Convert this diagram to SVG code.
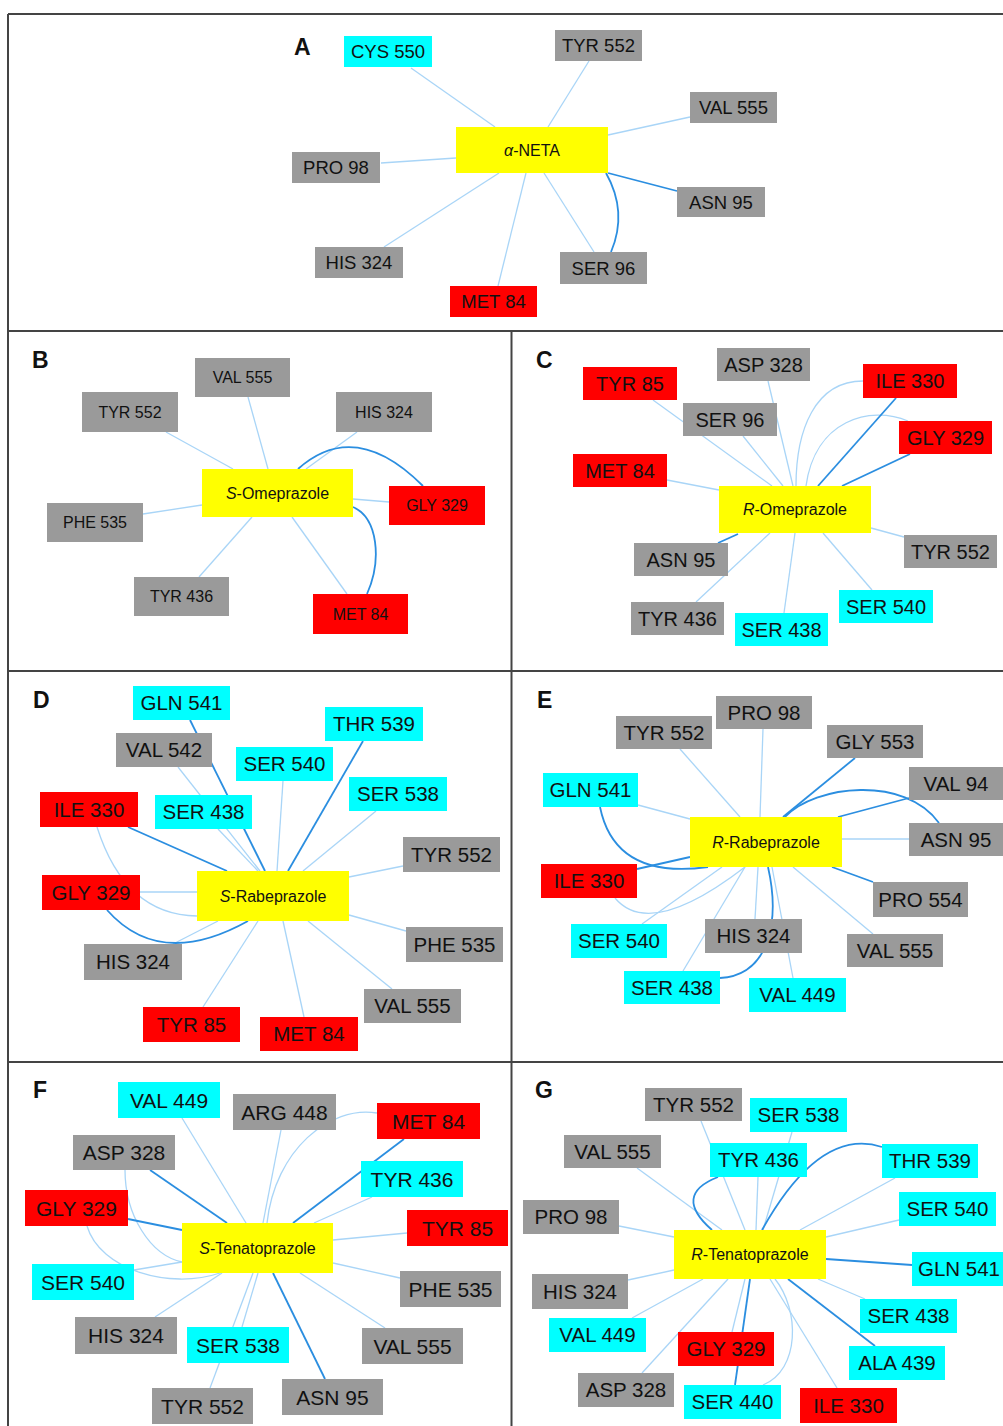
<svg xmlns="http://www.w3.org/2000/svg" width="1003" height="1426" viewBox="0 0 1003 1426">
<style>
.g{fill:#9a9a9a}
.c{fill:#00ffff}
.r{fill:#ff0000}
.y{fill:#ffff00}
.l{fill:none;stroke:#a9d5f7;stroke-width:1.3}
.d{fill:none;stroke:#2b8ee0;stroke-width:1.8}
text{font-family:"Liberation Sans",Arial,sans-serif;fill:#111;text-anchor:middle}
.fa{font-size:18.5px}
.fb{font-size:16px}
.fc{font-size:20px}
.fd{font-size:20.5px}
.ff{font-size:21px}
.fm{font-size:16px}
.lab{font-size:23px;font-weight:bold;text-anchor:start}
.i{font-style:italic}
.frame{stroke:#444;stroke-width:2;fill:none}
</style>
<rect width="1003" height="1426" fill="#ffffff"/>
<g id="frame">
<path class="frame" d="M8,14 H1003 M8,14 V1426 M8,331 H1003 M8,671 H1003 M8,1062 H1003 M511.5,331 V1426"/>
</g>
<g id="panel-labels">
<text class="lab" x="294" y="55">A</text>
<text class="lab" x="32" y="368">B</text>
<text class="lab" x="536" y="368">C</text>
<text class="lab" x="33" y="708">D</text>
<text class="lab" x="537" y="708">E</text>
<text class="lab" x="33" y="1098">F</text>
<text class="lab" x="535" y="1098">G</text>
</g>
<g id="connectors">
<!-- A -->
<path class="l" d="M411,68 L495,127"/>
<path class="l" d="M589,61 L548,127"/>
<path class="l" d="M690,117 L608,135"/>
<path class="l" d="M381,163 L456,158"/>
<path class="l" d="M544,173 L594,252"/>
<path class="l" d="M499,173 L384,247"/>
<path class="l" d="M526,173 L498,286"/>
<path class="d" d="M608,173 L677,191"/>
<path class="d" d="M606,173 Q628,212 611,252"/>
<!-- B -->
<path class="l" d="M166,432 L233,469"/>
<path class="l" d="M248,397 L268,469"/>
<path class="l" d="M357,432 L306,469"/>
<path class="l" d="M353,499 L389,502"/>
<path class="l" d="M292,517 L347,594"/>
<path class="l" d="M143,514 L202,505"/>
<path class="l" d="M199,577 L252,517"/>
<path class="d" d="M298,469 Q355,418 423,486"/>
<path class="d" d="M353,507 C378,518 382,560 367,594"/>
<!-- C -->
<path class="l" d="M653,400 L772,486"/>
<path class="l" d="M743,436 L783,486"/>
<path class="l" d="M768,381 L793,486"/>
<path class="l" d="M863,381 C815,381 796,430 796,486"/>
<path class="l" d="M908,421 C870,405 815,420 806,486"/>
<path class="l" d="M667,480 L719,490"/>
<path class="l" d="M904,537 L871,528"/>
<path class="l" d="M696,602 L770,533"/>
<path class="l" d="M784,613 L795,533"/>
<path class="l" d="M872,590 L823,533"/>
<path class="d" d="M896,398 L818,486"/>
<path class="d" d="M910,454 L842,486"/>
<path class="d" d="M718,543 L738,534"/>
<!-- D -->
<path class="l" d="M178,767 L260,871"/>
<path class="l" d="M218,829 L258,871"/>
<path class="l" d="M283,781 L277,871"/>
<path class="l" d="M376,811 L303,871"/>
<path class="l" d="M403,866 L349,877"/>
<path class="l" d="M97,827 Q125,915 197,916"/>
<path class="l" d="M140,892 L197,892"/>
<path class="l" d="M173,944 L218,921"/>
<path class="l" d="M203,1007 L258,921"/>
<path class="l" d="M304,1017 L283,921"/>
<path class="l" d="M392,989 L308,921"/>
<path class="l" d="M406,931 L349,915"/>
<path class="d" d="M190,720 L265,871"/>
<path class="d" d="M363,741 L288,871"/>
<path class="d" d="M128,827 L227,871"/>
<path class="d" d="M107,910 Q160,970 248,921"/>
<!-- E -->
<path class="l" d="M680,749 L740,817"/>
<path class="l" d="M763,729 L760,817"/>
<path class="l" d="M909,839 L842,839"/>
<path class="l" d="M638,805 L690,819"/>
<path class="l" d="M615,898 Q650,940 745,867"/>
<path class="l" d="M642,924 L722,867"/>
<path class="l" d="M683,971 L745,867"/>
<path class="l" d="M755,919 L758,867"/>
<path class="l" d="M793,978 L772,867"/>
<path class="l" d="M793,867 L873,934"/>
<path class="d" d="M855,758 L783,817"/>
<path class="d" d="M785,817 C815,785 905,775 939,823"/>
<path class="d" d="M909,798 L838,817"/>
<path class="d" d="M600,807 Q615,880 708,867"/>
<path class="d" d="M637,869 L690,857"/>
<path class="d" d="M768,867 C780,920 770,975 720,978"/>
<path class="d" d="M832,867 L873,882"/>
<!-- F -->
<path class="l" d="M182,1118 L246,1223"/>
<path class="l" d="M281,1130 L263,1223"/>
<path class="l" d="M377,1113 C330,1105 275,1150 267,1223"/>
<path class="l" d="M372,1197 L314,1223"/>
<path class="l" d="M407,1233 L333,1240"/>
<path class="l" d="M400,1278 L333,1263"/>
<path class="l" d="M385,1328 L300,1273"/>
<path class="l" d="M210,1388 L253,1273"/>
<path class="l" d="M242,1327 L258,1273"/>
<path class="l" d="M155,1317 L222,1273"/>
<path class="l" d="M134,1270 L182,1262"/>
<path class="l" d="M87,1226 C100,1270 170,1290 220,1273"/>
<path class="l" d="M125,1170 C125,1215 150,1255 182,1262"/>
<path class="d" d="M404,1139 L293,1223"/>
<path class="d" d="M325,1379 L273,1273"/>
<path class="d" d="M150,1170 L227,1223"/>
<path class="d" d="M128,1219 L182,1230"/>
<!-- G -->
<path class="l" d="M701,1121 L745,1230"/>
<path class="l" d="M792,1132 L763,1230"/>
<path class="l" d="M758,1177 L756,1230"/>
<path class="l" d="M895,1178 L800,1230"/>
<path class="l" d="M899,1220 L826,1237"/>
<path class="l" d="M637,1168 L722,1230"/>
<path class="l" d="M619,1226 L674,1237"/>
<path class="l" d="M628,1280 L674,1270"/>
<path class="l" d="M632,1318 L703,1279"/>
<path class="l" d="M642,1373 L728,1279"/>
<path class="l" d="M732,1332 L745,1279"/>
<path class="l" d="M763,1385 C800,1370 800,1310 775,1279"/>
<path class="l" d="M837,1388 L770,1279"/>
<path class="l" d="M865,1299 L818,1279"/>
<path class="d" d="M718,1177 Q672,1195 712,1230"/>
<path class="d" d="M882,1147 C830,1130 790,1180 762,1230"/>
<path class="d" d="M912,1265 L826,1259"/>
<path class="d" d="M735,1385 L750,1279"/>
<path class="d" d="M875,1346 L788,1279"/>
</g>
<!-- Panel A nodes -->
<g id="A-aneta"><rect class="y" x="456" y="127" width="152" height="46"/><text class="fm" x="532" y="150" dy=".36em"><tspan class="i">α</tspan>-NETA</text></g>
<g id="A-cys550"><rect class="c" x="344" y="36" width="88" height="31"/><text class="fa" x="388" y="51.5" dy=".36em">CYS 550</text></g>
<g id="A-tyr552"><rect class="g" x="555" y="30" width="87" height="31"/><text class="fa" x="598.5" y="45.5" dy=".36em">TYR 552</text></g>
<g id="A-val555"><rect class="g" x="690" y="92" width="87" height="31"/><text class="fa" x="733.5" y="107.5" dy=".36em">VAL 555</text></g>
<g id="A-pro98"><rect class="g" x="292" y="152" width="88" height="31"/><text class="fa" x="336" y="167.5" dy=".36em">PRO 98</text></g>
<g id="A-asn95"><rect class="g" x="677" y="187" width="88" height="30"/><text class="fa" x="721" y="202" dy=".36em">ASN 95</text></g>
<g id="A-his324"><rect class="g" x="315" y="247" width="88" height="31"/><text class="fa" x="359" y="262.5" dy=".36em">HIS 324</text></g>
<g id="A-ser96"><rect class="g" x="560" y="252" width="87" height="32"/><text class="fa" x="603.5" y="268" dy=".36em">SER 96</text></g>
<g id="A-met84"><rect class="r" x="450" y="286" width="87" height="31"/><text class="fa" x="493.5" y="301.5" dy=".36em">MET 84</text></g>
<!-- Panel B nodes -->
<g id="B-someprazole"><rect class="y" x="202" y="469" width="151" height="48"/><text class="fm" x="277.5" y="493" dy=".36em"><tspan class="i">S</tspan>-Omeprazole</text></g>
<g id="B-val555"><rect class="g" x="195" y="358" width="95" height="39"/><text class="fb" x="242.5" y="377.5" dy=".36em">VAL 555</text></g>
<g id="B-tyr552"><rect class="g" x="82" y="392" width="96" height="40"/><text class="fb" x="130" y="412" dy=".36em">TYR 552</text></g>
<g id="B-his324"><rect class="g" x="336" y="392" width="96" height="40"/><text class="fb" x="384" y="412" dy=".36em">HIS 324</text></g>
<g id="B-phe535"><rect class="g" x="47" y="503" width="96" height="39"/><text class="fb" x="95" y="522.5" dy=".36em">PHE 535</text></g>
<g id="B-gly329"><rect class="r" x="389" y="486" width="96" height="39"/><text class="fb" x="437" y="505.5" dy=".36em">GLY 329</text></g>
<g id="B-tyr436"><rect class="g" x="134" y="577" width="95" height="39"/><text class="fb" x="181.5" y="596.5" dy=".36em">TYR 436</text></g>
<g id="B-met84"><rect class="r" x="313" y="594" width="95" height="40"/><text class="fb" x="360.5" y="614" dy=".36em">MET 84</text></g>
<!-- Panel C nodes -->
<g id="C-romeprazole"><rect class="y" x="719" y="486" width="152" height="47"/><text class="fm" x="795" y="509.5" dy=".36em"><tspan class="i">R</tspan>-Omeprazole</text></g>
<g id="C-asp328"><rect class="g" x="717" y="348" width="93" height="33"/><text class="fc" x="763.5" y="364.5" dy=".36em">ASP 328</text></g>
<g id="C-tyr85"><rect class="r" x="583" y="367" width="94" height="33"/><text class="fc" x="630" y="383.5" dy=".36em">TYR 85</text></g>
<g id="C-ile330"><rect class="r" x="863" y="364" width="94" height="34"/><text class="fc" x="910" y="381" dy=".36em">ILE 330</text></g>
<g id="C-ser96"><rect class="g" x="683" y="403" width="94" height="33"/><text class="fc" x="730" y="419.5" dy=".36em">SER 96</text></g>
<g id="C-gly329"><rect class="r" x="899" y="421" width="93" height="33"/><text class="fc" x="945.5" y="437.5" dy=".36em">GLY 329</text></g>
<g id="C-met84"><rect class="r" x="573" y="454" width="94" height="33"/><text class="fc" x="620" y="470.5" dy=".36em">MET 84</text></g>
<g id="C-tyr552"><rect class="g" x="904" y="535" width="93" height="33"/><text class="fc" x="950.5" y="551.5" dy=".36em">TYR 552</text></g>
<g id="C-asn95"><rect class="g" x="634" y="543" width="94" height="33"/><text class="fc" x="681" y="559.5" dy=".36em">ASN 95</text></g>
<g id="C-ser540"><rect class="c" x="839" y="590" width="94" height="33"/><text class="fc" x="886" y="606.5" dy=".36em">SER 540</text></g>
<g id="C-tyr436"><rect class="g" x="631" y="602" width="93" height="33"/><text class="fc" x="677.5" y="618.5" dy=".36em">TYR 436</text></g>
<g id="C-ser438"><rect class="c" x="735" y="613" width="93" height="33"/><text class="fc" x="781.5" y="629.5" dy=".36em">SER 438</text></g>
<!-- Panel D nodes -->
<g id="D-srabeprazole"><rect class="y" x="197" y="871" width="152" height="50"/><text class="fm" x="273" y="896" dy=".36em"><tspan class="i">S</tspan>-Rabeprazole</text></g>
<g id="D-gln541"><rect class="c" x="133" y="686" width="97" height="34"/><text class="fd" x="181.5" y="703" dy=".36em">GLN 541</text></g>
<g id="D-thr539"><rect class="c" x="325" y="707" width="98" height="34"/><text class="fd" x="374" y="724" dy=".36em">THR 539</text></g>
<g id="D-val542"><rect class="g" x="116" y="733" width="96" height="34"/><text class="fd" x="164" y="750" dy=".36em">VAL 542</text></g>
<g id="D-ser540"><rect class="c" x="236" y="747" width="97" height="34"/><text class="fd" x="284.5" y="764" dy=".36em">SER 540</text></g>
<g id="D-ser538"><rect class="c" x="349" y="777" width="98" height="34"/><text class="fd" x="398" y="794" dy=".36em">SER 538</text></g>
<g id="D-ile330"><rect class="r" x="40" y="792" width="98" height="35"/><text class="fd" x="89" y="809.5" dy=".36em">ILE 330</text></g>
<g id="D-ser438"><rect class="c" x="155" y="795" width="97" height="34"/><text class="fd" x="203.5" y="812" dy=".36em">SER 438</text></g>
<g id="D-tyr552"><rect class="g" x="403" y="837" width="97" height="35"/><text class="fd" x="451.5" y="854.5" dy=".36em">TYR 552</text></g>
<g id="D-gly329"><rect class="r" x="42" y="875" width="98" height="35"/><text class="fd" x="91" y="892.5" dy=".36em">GLY 329</text></g>
<g id="D-phe535"><rect class="g" x="406" y="927" width="97" height="35"/><text class="fd" x="454.5" y="944.5" dy=".36em">PHE 535</text></g>
<g id="D-his324"><rect class="g" x="84" y="944" width="98" height="36"/><text class="fd" x="133" y="962" dy=".36em">HIS 324</text></g>
<g id="D-val555"><rect class="g" x="364" y="989" width="97" height="34"/><text class="fd" x="412.5" y="1006" dy=".36em">VAL 555</text></g>
<g id="D-tyr85"><rect class="r" x="143" y="1007" width="97" height="35"/><text class="fd" x="191.5" y="1024.5" dy=".36em">TYR 85</text></g>
<g id="D-met84"><rect class="r" x="260" y="1017" width="98" height="34"/><text class="fd" x="309" y="1034" dy=".36em">MET 84</text></g>
<!-- Panel E nodes -->
<g id="E-rrabeprazole"><rect class="y" x="690" y="817" width="152" height="50"/><text class="fm" x="766" y="842" dy=".36em"><tspan class="i">R</tspan>-Rabeprazole</text></g>
<g id="E-pro98"><rect class="g" x="716" y="696" width="96" height="33"/><text class="fd" x="764" y="712.5" dy=".36em">PRO 98</text></g>
<g id="E-tyr552"><rect class="g" x="616" y="716" width="96" height="33"/><text class="fd" x="664" y="732.5" dy=".36em">TYR 552</text></g>
<g id="E-gly553"><rect class="g" x="827" y="725" width="96" height="33"/><text class="fd" x="875" y="741.5" dy=".36em">GLY 553</text></g>
<g id="E-val94"><rect class="g" x="909" y="767" width="94" height="33"/><text class="fd" x="956" y="783.5" dy=".36em">VAL 94</text></g>
<g id="E-gln541"><rect class="c" x="543" y="773" width="95" height="34"/><text class="fd" x="590.5" y="790" dy=".36em">GLN 541</text></g>
<g id="E-asn95"><rect class="g" x="909" y="823" width="94" height="33"/><text class="fd" x="956" y="839.5" dy=".36em">ASN 95</text></g>
<g id="E-ile330"><rect class="r" x="541" y="864" width="96" height="34"/><text class="fd" x="589" y="881" dy=".36em">ILE 330</text></g>
<g id="E-pro554"><rect class="g" x="873" y="882" width="95" height="35"/><text class="fd" x="920.5" y="899.5" dy=".36em">PRO 554</text></g>
<g id="E-his324"><rect class="g" x="705" y="919" width="97" height="34"/><text class="fd" x="753.5" y="936" dy=".36em">HIS 324</text></g>
<g id="E-ser540"><rect class="c" x="571" y="924" width="96" height="34"/><text class="fd" x="619" y="941" dy=".36em">SER 540</text></g>
<g id="E-val555"><rect class="g" x="847" y="934" width="96" height="33"/><text class="fd" x="895" y="950.5" dy=".36em">VAL 555</text></g>
<g id="E-ser438"><rect class="c" x="624" y="971" width="96" height="33"/><text class="fd" x="672" y="987.5" dy=".36em">SER 438</text></g>
<g id="E-val449"><rect class="c" x="749" y="978" width="97" height="34"/><text class="fd" x="797.5" y="995" dy=".36em">VAL 449</text></g>
<!-- Panel F nodes -->
<g id="F-stenatoprazole"><rect class="y" x="182" y="1223" width="151" height="50"/><text class="fm" x="257.5" y="1248" dy=".36em"><tspan class="i">S</tspan>-Tenatoprazole</text></g>
<g id="F-val449"><rect class="c" x="118" y="1082" width="102" height="36"/><text class="ff" x="169" y="1100" dy=".36em">VAL 449</text></g>
<g id="F-arg448"><rect class="g" x="233" y="1094" width="103" height="36"/><text class="ff" x="284.5" y="1112" dy=".36em">ARG 448</text></g>
<g id="F-met84"><rect class="r" x="377" y="1103" width="103" height="36"/><text class="ff" x="428.5" y="1121" dy=".36em">MET 84</text></g>
<g id="F-asp328"><rect class="g" x="73" y="1135" width="102" height="35"/><text class="ff" x="124" y="1152.5" dy=".36em">ASP 328</text></g>
<g id="F-tyr436"><rect class="c" x="361" y="1161" width="102" height="36"/><text class="ff" x="412" y="1179" dy=".36em">TYR 436</text></g>
<g id="F-gly329"><rect class="r" x="25" y="1190" width="103" height="36"/><text class="ff" x="76.5" y="1208" dy=".36em">GLY 329</text></g>
<g id="F-tyr85"><rect class="r" x="407" y="1210" width="101" height="36"/><text class="ff" x="457.5" y="1228" dy=".36em">TYR 85</text></g>
<g id="F-ser540"><rect class="c" x="32" y="1264" width="102" height="36"/><text class="ff" x="83" y="1282" dy=".36em">SER 540</text></g>
<g id="F-phe535"><rect class="g" x="400" y="1271" width="101" height="36"/><text class="ff" x="450.5" y="1289" dy=".36em">PHE 535</text></g>
<g id="F-his324"><rect class="g" x="75" y="1317" width="102" height="37"/><text class="ff" x="126" y="1335.5" dy=".36em">HIS 324</text></g>
<g id="F-ser538"><rect class="c" x="187" y="1327" width="102" height="36"/><text class="ff" x="238" y="1345" dy=".36em">SER 538</text></g>
<g id="F-val555"><rect class="g" x="362" y="1328" width="101" height="36"/><text class="ff" x="412.5" y="1346" dy=".36em">VAL 555</text></g>
<g id="F-asn95"><rect class="g" x="282" y="1379" width="101" height="36"/><text class="ff" x="332.5" y="1397" dy=".36em">ASN 95</text></g>
<g id="F-tyr552"><rect class="g" x="152" y="1388" width="101" height="36"/><text class="ff" x="202.5" y="1406" dy=".36em">TYR 552</text></g>
<!-- Panel G nodes -->
<g id="G-rtenatoprazole"><rect class="y" x="674" y="1230" width="152" height="49"/><text class="fm" x="750" y="1254.5" dy=".36em"><tspan class="i">R</tspan>-Tenatoprazole</text></g>
<g id="G-tyr552"><rect class="g" x="645" y="1088" width="97" height="33"/><text class="fd" x="693.5" y="1104.5" dy=".36em">TYR 552</text></g>
<g id="G-ser538"><rect class="c" x="750" y="1098" width="97" height="34"/><text class="fd" x="798.5" y="1115" dy=".36em">SER 538</text></g>
<g id="G-val555"><rect class="g" x="564" y="1135" width="97" height="33"/><text class="fd" x="612.5" y="1151.5" dy=".36em">VAL 555</text></g>
<g id="G-tyr436"><rect class="c" x="710" y="1143" width="97" height="34"/><text class="fd" x="758.5" y="1160" dy=".36em">TYR 436</text></g>
<g id="G-thr539"><rect class="c" x="882" y="1144" width="96" height="34"/><text class="fd" x="930" y="1161" dy=".36em">THR 539</text></g>
<g id="G-ser540"><rect class="c" x="899" y="1192" width="97" height="34"/><text class="fd" x="947.5" y="1209" dy=".36em">SER 540</text></g>
<g id="G-pro98"><rect class="g" x="523" y="1200" width="96" height="34"/><text class="fd" x="571" y="1217" dy=".36em">PRO 98</text></g>
<g id="G-gln541"><rect class="c" x="912" y="1252" width="94" height="34"/><text class="fd" x="959" y="1269" dy=".36em">GLN 541</text></g>
<g id="G-his324"><rect class="g" x="532" y="1274" width="96" height="35"/><text class="fd" x="580" y="1291.5" dy=".36em">HIS 324</text></g>
<g id="G-ser438"><rect class="c" x="860" y="1299" width="97" height="34"/><text class="fd" x="908.5" y="1316" dy=".36em">SER 438</text></g>
<g id="G-val449"><rect class="c" x="549" y="1318" width="97" height="34"/><text class="fd" x="597.5" y="1335" dy=".36em">VAL 449</text></g>
<g id="G-gly329"><rect class="r" x="678" y="1332" width="96" height="34"/><text class="fd" x="726" y="1349" dy=".36em">GLY 329</text></g>
<g id="G-ala439"><rect class="c" x="849" y="1346" width="96" height="34"/><text class="fd" x="897" y="1363" dy=".36em">ALA 439</text></g>
<g id="G-asp328"><rect class="g" x="578" y="1373" width="96" height="34"/><text class="fd" x="626" y="1390" dy=".36em">ASP 328</text></g>
<g id="G-ser440"><rect class="c" x="684" y="1385" width="97" height="34"/><text class="fd" x="732.5" y="1402" dy=".36em">SER 440</text></g>
<g id="G-ile330"><rect class="r" x="800" y="1388" width="97" height="35"/><text class="fd" x="848.5" y="1405.5" dy=".36em">ILE 330</text></g>
</svg>
